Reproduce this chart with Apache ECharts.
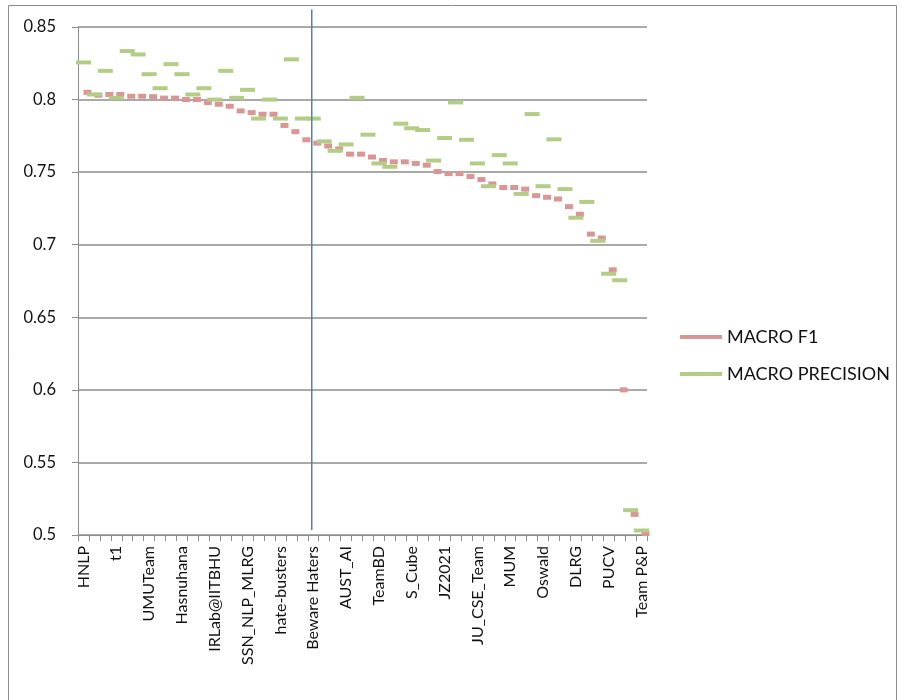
<!DOCTYPE html>
<html>
<head>
<meta charset="utf-8">
<script src="https://cdn.jsdelivr.net/npm/echarts@6/dist/echarts.min.js"></script>
<style>
  html, body { margin: 0; padding: 0; background: #fff; }
  #chart { width: 901px; height: 700px; }
</style>
</head>
<body>
<div id="chart"></div>
<script>
// teams, ordered by macro F1 (only every third name is printed on the axis)
const teams = [
  'HNLP', '(2)', '(3)', 't1', '(5)', '(6)', 'UMUTeam', '(8)', '(9)', 'Hasnuhana',
  '(11)', '(12)', 'IRLab@IITBHU', '(14)', '(15)', 'SSN_NLP_MLRG', '(17)', '(18)',
  'hate-busters', '(20)', '(21)', 'Beware Haters', '(23)', '(24)', 'AUST_AI', '(26)',
  '(27)', 'TeamBD', '(29)', '(30)', 'S_Cube', '(32)', '(33)', 'JZ2021', '(35)', '(36)',
  'JU_CSE_Team', '(38)', '(39)', 'MUM', '(41)', '(42)', 'Oswald', '(44)', '(45)',
  'DLRG', '(47)', '(48)', 'PUCV', '(50)', '(51)', 'Team P&P'
];

const macroF1 = [
  0.805, 0.803, 0.8035, 0.8035, 0.8023, 0.8023, 0.802, 0.801, 0.801, 0.800,
  0.800, 0.798, 0.7968, 0.7954, 0.7922, 0.791, 0.7899, 0.7899, 0.7822, 0.7779,
  0.7723, 0.770, 0.768, 0.766, 0.7624, 0.7624, 0.7604, 0.758, 0.7571, 0.7571,
  0.756, 0.7548, 0.7504, 0.749, 0.749, 0.747, 0.7449, 0.7419, 0.7394, 0.7394,
  0.7383, 0.7338, 0.7327, 0.7315, 0.7262, 0.721, 0.7073, 0.7046, 0.6827, 0.600,
  0.5142, 0.501
];

const macroPrecision = [
  0.8256, 0.8035, 0.8198, 0.8012, 0.8334, 0.8311, 0.8175, 0.8078, 0.8244, 0.8175,
  0.8035, 0.8078, 0.800, 0.8198, 0.8012, 0.8067, 0.7869, 0.800, 0.7869, 0.8277,
  0.7869, 0.7869, 0.7712, 0.7647, 0.7691, 0.8012, 0.7758, 0.756, 0.7537, 0.7834,
  0.7802, 0.779, 0.758, 0.7735, 0.798, 0.7723, 0.756, 0.7403, 0.7617, 0.756,
  0.735, 0.790, 0.7403, 0.7726, 0.7383, 0.7186, 0.7295, 0.7027, 0.680, 0.6755,
  0.5171, 0.5031
];

const yTicks = [0.5, 0.55, 0.6, 0.65, 0.7, 0.75, 0.8, 0.85];
// the blue marker line sits on this team and runs between these two values
const markedTeam = 'Beware Haters';
const markedRange = [0.862, 0.5035];

const fontFamily = 'Lato, "Open Sans", sans-serif';
const chart = echarts.init(document.getElementById('chart'), null, { renderer: 'canvas' });

const option = {
  animation: false,
  backgroundColor: '#fff',
  textStyle: { fontFamily: fontFamily },
  grid: { left: 78, right: 254, top: 27, bottom: 165, containLabel: false },
  legend: {
    orient: 'vertical',
    left: 680,
    top: 328,
    padding: 0,
    itemWidth: 42,
    itemHeight: 4,
    itemGap: 19,
    icon: 'rect',
    textStyle: { fontSize: 18, color: '#111' },
    data: ['MACRO F1', 'MACRO PRECISION']
  },
  xAxis: {
    type: 'category',
    data: teams,
    boundaryGap: true,
    axisLine: { lineStyle: { color: '#8c8c8c', width: 1 } },
    axisTick: { show: true, interval: 0, length: 6, lineStyle: { color: '#8c8c8c' } },
    axisLabel: {
      interval: 2,
      rotate: 90,
      margin: 11,
      fontSize: 16,
      color: '#111'
    },
    splitLine: { show: false }
  },
  yAxis: {
    type: 'value',
    min: yTicks[0],
    max: yTicks[yTicks.length - 1],
    interval: 0.05,
    axisLine: { show: true, lineStyle: { color: '#8c8c8c', width: 1 } },
    axisTick: { show: true, length: 6, lineStyle: { color: '#8c8c8c' } },
    axisLabel: {
      margin: 22,
      fontSize: 16.5,
      color: '#111',
      formatter: v => String(+v.toFixed(2))
    },
    splitLine: { show: true, lineStyle: { color: '#8c8c8c', width: 1.5 } }
  },
  series: [
    {
      name: 'MACRO F1',
      type: 'line',
      data: macroF1,
      symbol: 'rect',
      symbolSize: [8, 5],
      symbolOffset: [4, 0],
      showAllSymbol: true,
      itemStyle: { color: '#d99694' },
      lineStyle: { opacity: 0 },
      emphasis: { disabled: true },
      z: 2
    },
    {
      name: 'MACRO PRECISION',
      type: 'line',
      data: macroPrecision,
      symbol: 'rect',
      symbolSize: [15, 4],
      showAllSymbol: true,
      itemStyle: { color: '#b3cd87' },
      lineStyle: { opacity: 0 },
      emphasis: { disabled: true },
      z: 3
    }
  ]
};

chart.setOption(option);

// frame and the vertical marker, placed through the axes
const lineStart = chart.convertToPixel({ gridIndex: 0 }, [markedTeam, markedRange[0]]);
const lineEnd = chart.convertToPixel({ gridIndex: 0 }, [markedTeam, markedRange[1]]);
chart.setOption({
  graphic: [
    {
      type: 'rect',
      shape: { x: 8.5, y: 5.5, width: 888, height: 720 },
      style: { fill: 'none', stroke: '#8c8c8c', lineWidth: 1 },
      silent: true
    },
    {
      type: 'line',
      shape: { x1: lineStart[0] - 1.5, y1: lineStart[1], x2: lineEnd[0] - 1.5, y2: lineEnd[1] },
      style: { stroke: '#4f81bd', lineWidth: 1.5 },
      z: 10,
      silent: true
    }
  ]
});
</script>
</body>
</html>
